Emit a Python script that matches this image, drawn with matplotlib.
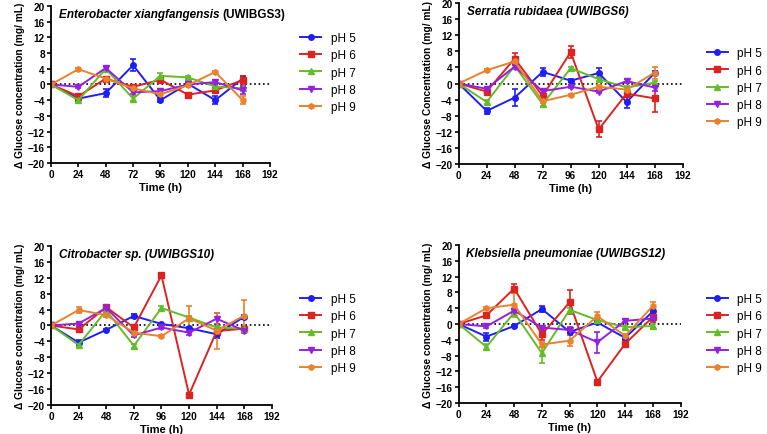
import matplotlib
matplotlib.use('Agg')
import matplotlib.pyplot as plt
from matplotlib.lines import Line2D
import numpy as np

plt.rcParams['font.family'] = ['Liberation Sans', 'DejaVu Sans']

time_h = [0, 24, 48, 72, 96, 120, 144, 168]
ph_labels = ['pH 5', 'pH 6', 'pH 7', 'pH 8', 'pH 9']
ph_colors = ['#1f1ff5', '#dd2222', '#66bb2a', '#9420e0', '#e8822c']
ph_markers = ['o', 's', '^', 'v', 'h']

# Enterobacter xiangfangensis (UWIBGS3)
ent_ph5 = [0, -3.6, -2.2, 4.9, -4.0, 0.2, -4.0, 1.5]
ent_ph6 = [0, -3.0, 1.5, -0.6, 1.2, -2.6, -1.5, 1.1]
ent_ph7 = [0, -4.0, 4.0, -3.6, 2.2, 1.8, -0.5, -1.0]
ent_ph8 = [0, -0.6, 4.2, -2.0, -1.7, 0.0, 0.6, -1.5]
ent_ph9 = [0, 3.9, 1.5, -1.0, -2.5, -0.2, 3.2, -4.0]
ent_err5 = [0, 0.5, 1.0, 1.5, 0.5, 0.4, 1.0, 0.6]
ent_err6 = [0, 0.4, 0.5, 0.4, 0.5, 0.4, 0.5, 1.0]
ent_err7 = [0, 0.5, 0.5, 0.6, 0.6, 0.3, 0.3, 0.5]
ent_err8 = [0, 0.3, 0.6, 0.5, 0.5, 0.3, 0.5, 1.0]
ent_err9 = [0, 0.4, 0.4, 0.4, 0.5, 0.3, 0.3, 1.0]

# Serratia rubidaea (UWIBGS6)
ser_ph5 = [0, -6.8, -3.5, 2.9, 0.7, 2.6, -4.6, 2.6]
ser_ph6 = [0, -2.0, 6.2, -3.1, 7.8, -11.4, -2.5, -3.7]
ser_ph7 = [0, -4.6, 4.4, -5.1, 3.8, 1.1, -1.0, 0.2]
ser_ph8 = [0, -1.3, 4.2, -1.9, -0.8, -2.0, 0.6, -1.0]
ser_ph9 = [0, 3.3, 5.5, -4.4, -2.8, -0.8, -1.5, 2.7]
ser_err5 = [0, 0.8, 2.2, 1.0, 0.4, 1.2, 1.5, 0.5]
ser_err6 = [0, 0.5, 1.5, 0.8, 1.5, 2.0, 0.6, 3.5]
ser_err7 = [0, 0.4, 0.5, 0.5, 0.4, 0.4, 0.4, 0.5]
ser_err8 = [0, 0.4, 0.5, 0.4, 0.4, 0.4, 0.4, 0.8]
ser_err9 = [0, 0.3, 0.5, 0.5, 0.3, 0.4, 0.4, 1.5]

# Citrobacter sp. (UWIBGS10)
cit_ph5 = [0, -4.3, -1.1, 2.4, 0.4, -0.7, -2.2, 2.2]
cit_ph6 = [0, -1.0, 4.6, -0.5, 12.6, -17.4, -1.4, -0.8]
cit_ph7 = [0, -4.9, 3.8, -5.1, 4.4, 2.0, -0.5, -0.8]
cit_ph8 = [0, 0.5, 4.4, -2.5, -0.5, -1.8, 1.7, -1.3]
cit_ph9 = [0, 3.9, 2.6, -1.8, -2.7, 1.8, -1.3, 2.5]
cit_err5 = [0, 0.6, 0.3, 0.4, 0.3, 0.3, 1.0, 0.5]
cit_err6 = [0, 0.4, 0.5, 0.4, 0.5, 0.5, 0.5, 0.5]
cit_err7 = [0, 0.5, 0.5, 0.5, 0.4, 0.4, 0.4, 0.4]
cit_err8 = [0, 0.3, 0.5, 0.5, 0.4, 0.5, 1.4, 0.6]
cit_err9 = [0, 0.8, 0.4, 0.4, 0.3, 3.0, 4.5, 4.0]

# Klebsiella pneumoniae (UWIBGS12)
kle_ph5 = [0, -3.2, -0.5, 3.8, -2.0, 0.4, -3.5, 3.2]
kle_ph6 = [0, 2.2, 9.0, -2.6, 5.5, -14.6, -5.0, 1.8]
kle_ph7 = [0, -5.8, 2.9, -7.4, 3.6, 1.0, -0.8, -0.5]
kle_ph8 = [0, -0.6, 3.4, -0.9, -1.5, -4.6, 0.8, 1.4]
kle_ph9 = [0, 4.0, 4.9, -5.2, -4.2, 2.0, -3.0, 4.6]
kle_err5 = [0, 1.0, 0.3, 0.8, 0.8, 0.3, 0.4, 0.5]
kle_err6 = [0, 0.4, 1.2, 1.5, 3.0, 0.5, 0.6, 1.2]
kle_err7 = [0, 0.8, 0.5, 2.5, 0.5, 0.4, 0.4, 0.4]
kle_err8 = [0, 0.3, 0.5, 0.5, 0.8, 2.7, 0.4, 0.5]
kle_err9 = [0, 0.3, 3.0, 0.6, 1.3, 1.0, 0.5, 1.0]

panels = [
    {'title': [('Enterobacter xiangfangensis ', 'italic'), ('(UWIBGS3)', 'normal')],
     'ylabel': 'Δ Glucose concentration (mg/ mL)',
     'series': [ent_ph5, ent_ph6, ent_ph7, ent_ph8, ent_ph9],
     'errs': [ent_err5, ent_err6, ent_err7, ent_err8, ent_err9],
     'rect': [0.0665, 0.623, 0.2855, 0.361], 'leg': (0.385, 0.935)},
    {'title': [('Serratia rubidaea (UWIBGS6)', 'italic')],
     'ylabel': 'Δ Glucose Concentration (mg/ mL)',
     'series': [ser_ph5, ser_ph6, ser_ph7, ser_ph8, ser_ph9],
     'errs': [ser_err5, ser_err6, ser_err7, ser_err8, ser_err9],
     'rect': [0.598, 0.6207, 0.292, 0.370], 'leg': (0.915, 0.90)},
    {'title': [('Citrobacter sp. (UWIBGS10)', 'italic')],
     'ylabel': 'Δ Glucose concentration (mg/ mL)',
     'series': [cit_ph5, cit_ph6, cit_ph7, cit_ph8, cit_ph9],
     'errs': [cit_err5, cit_err6, cit_err7, cit_err8, cit_err9],
     'rect': [0.0665, 0.0667, 0.288, 0.3655], 'leg': (0.385, 0.335)},
    {'title': [('Klebsiella pneumoniae (UWIBGS12)', 'italic')],
     'ylabel': 'Δ Glucose concentration (mg/ mL)',
     'series': [kle_ph5, kle_ph6, kle_ph7, kle_ph8, kle_ph9],
     'errs': [kle_err5, kle_err6, kle_err7, kle_err8, kle_err9],
     'rect': [0.598, 0.0713, 0.2894, 0.363], 'leg': (0.915, 0.335)},
]

fig = plt.figure(figsize=(7.67, 4.35), dpi=100)

for p in panels:
    ax = fig.add_axes(p['rect'])
    handles = []
    for vals, err, lab, col, mk in zip(p['series'], p['errs'], ph_labels, ph_colors, ph_markers):
        ax.errorbar(time_h, vals, yerr=err, color=col, marker=mk, markersize=4,
                    linewidth=1.4, elinewidth=1.2, capsize=2.5, capthick=1.2)
        handles.append(Line2D([], [], color=col, marker=mk, markersize=4,
                              linewidth=1.4, label=lab))
    ax.axhline(0, color='black', linestyle=':', linewidth=1.2, zorder=0)
    ax.set_xlim(0, 192)
    ax.set_ylim(-20, 20)
    ax.set_xticks(np.arange(0, 193, 24))
    ax.set_yticks(np.arange(-20, 21, 4))
    for s in ['top', 'right']:
        ax.spines[s].set_visible(False)
    for s in ['left', 'bottom']:
        ax.spines[s].set_linewidth(1.3)
    ax.tick_params(width=1.2, length=3, labelsize=7.2, pad=1.5)
    for t in ax.get_xticklabels() + ax.get_yticklabels():
        t.set_fontweight('bold')
    ax.set_xlabel('Time (h)', fontsize=8, fontweight='bold', labelpad=2)
    ax.set_ylabel(p['ylabel'], fontsize=7.3, fontweight='bold', labelpad=2)
    # title inside plot area
    x0 = 0.035
    for txt, style in p['title']:
        t = ax.text(x0, 0.985, txt, transform=ax.transAxes, fontsize=8.5,
                    fontweight='bold', fontstyle=style, va='top', ha='left')
        fig.canvas.draw()
        bb = t.get_window_extent().transformed(ax.transAxes.inverted())
        x0 = bb.x1
    ax.legend(handles=handles, loc='upper left', bbox_to_anchor=p['leg'],
              bbox_transform=fig.transFigure, frameon=False, fontsize=8.5,
              handlelength=1.8, labelspacing=0.45, handletextpad=0.8, borderaxespad=0)

fig.savefig('out.png', dpi=100)
